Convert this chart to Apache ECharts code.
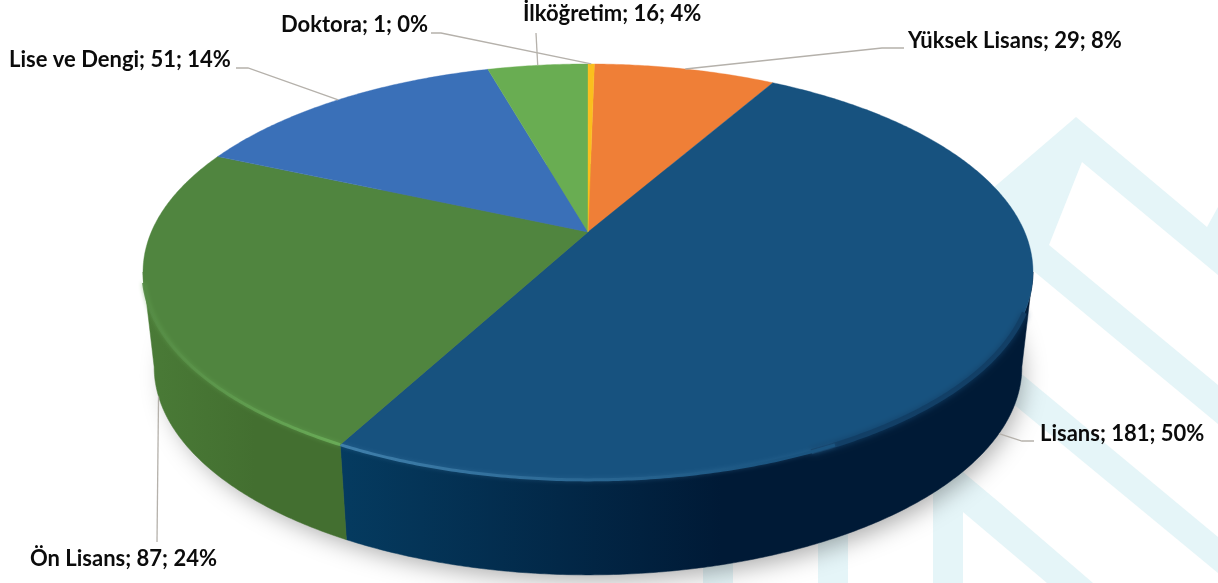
<!DOCTYPE html>
<html><head><meta charset="utf-8">
<style>html,body{margin:0;padding:0;background:#fff}#c{width:1218px;height:583px}</style>
<script src="https://cdn.jsdelivr.net/npm/echarts@6/dist/echarts.min.js"></script>
</head><body><div id="c"></div>
<script>
const categories = ['Yüksek Lisans','Lisans','Ön Lisans','Lise ve Dengi','İlköğretim','Doktora'];
const values = [29,181,87,51,16,1];
const percents = [8,50,24,14,4,0];

const topColors = ['#ef7f37','#17527f','#50853f','#3a70b8','#69ad52','#fbbf1d'];
const sideColors = [['#c0622a','#c0622a'],['#053b60','#001a36'],['#4a7b37','#436f30'],['#2c5a96','#2c5a96'],['#4f8a3e','#4f8a3e'],['#c99a16','#c99a16']];
const labelLayout = [
  {x:908,y:41,elbow:[[904,48],[882,48]],onBase:false},
  {x:1040,y:434,elbow:[[1034,441],[1022,441]],onBase:true},
  {x:30,y:559,elbow:[[157,542]],onBase:true},
  {x:9,y:60,elbow:[[236,68],[248,68]],onBase:false},
  {x:523,y:14,elbow:[[536,33]],onBase:false},
  {x:281,y:25,elbow:[[431,33],[441,33]],onBase:false}
];

const P = {cx:588,y0:232,A:436.7,B:200.3,k:0.192,depth:95,baseScale:0.975,start:1.0};
const total = values.reduce((a,b)=>a+b,0);
const starts = []; values.reduce((acc,v,i)=>{starts[i]=acc;return acc+v/total*360;},P.start);
const rim = deg => {const t=deg*Math.PI/180,u=Math.sin(t),v=Math.cos(t),w=1+P.k*v;
  return [P.cx+P.A*u/w,P.y0-P.B*v/w];};
const base = p => [P.cx+(p[0]-P.cx)*P.baseScale,p[1]+P.depth];
const arc = (a,b,fn)=>{const n=Math.max(2,Math.ceil((b-a)*2)),r=[];for(let i=0;i<=n;i++){const p=rim(a+(b-a)*i/n);r.push(fn?fn(p):p);}return r;};
const span = i => [starts[i],starts[i]+values[i]/total*360];
const hGrad=(x1,x2,c1,c2)=>new echarts.graphic.LinearGradient(x1,0,x2,0,[{offset:0,color:c1},{offset:1,color:c2}],true);
const extreme = Math.acos(-P.k)*180/Math.PI;

const sideItem=(params)=>{
  const i=params.dataIndex;let [a,b]=span(i);
  a=Math.max(a,extreme); b=Math.min(b,360-extreme);
  if(b<=a) return null;
  const pts=arc(a,b).concat(arc(a,b,base).reverse());
  const c=sideColors[i];
  const xs=pts.map(p=>p[0]);
  const lo=Math.min(...xs),hi=Math.max(...xs);
  const f=hGrad(lo,lo+(hi-lo)*0.55,c[0],c[1]);
  return {type:'polygon',shape:{points:pts},style:{fill:f,stroke:f,lineWidth:0.5}};
};
const topItem=(params)=>{
  const i=params.dataIndex,[a,b]=span(i);
  const pts=[[P.cx,P.y0]].concat(arc(a,b));
  const children=[{type:'polygon',shape:{points:pts},style:{fill:topColors[i],stroke:topColors[i],lineWidth:0.4}}];
  if(categories[i]==='Ön Lisans'){
    children.push({type:'polyline',shape:{points:arc(a,256)},style:{fill:null,lineWidth:3,opacity:.9,shadowBlur:4,shadowColor:'rgba(104,168,85,.6)',
      stroke:hGrad(150,345,'#558b45','#6cb05a')}});
  }
  if(categories[i]==='Lisans'){
    children.push({type:'polyline',shape:{points:arc(112,155)},style:{fill:null,lineWidth:5,shadowBlur:6,shadowColor:'#123f66',stroke:'#123f66'}});
    children.push({type:'polyline',shape:{points:arc(152,b)},style:{fill:null,lineWidth:3,shadowBlur:4,shadowColor:'rgba(60,120,165,.4)',
      stroke:hGrad(345,780,'#3f7fab','#1a5480')}});
  }
  return {type:'group',children};
};
const labelItem=(params)=>{
  const i=params.dataIndex,[a,b]=span(i),L=labelLayout[i];
  let anchor=rim((a+b)/2); if(L.onBase) anchor=base(anchor);
  return {type:'group',children:[
    {type:'polyline',shape:{points:L.elbow.concat([anchor])},style:{fill:null,stroke:'#b5b1ab',lineWidth:1.3}},
    {type:'text',style:{x:L.x,y:L.y,text:categories[i]+'; '+values[i]+'; '+percents[i]+'%',
      font:'700 22px Lato',fill:'#0b0b0b',textAlign:'left',textVerticalAlign:'middle'}}
  ]};
};
const wm='#e5f5f8';
const poly=pts=>({type:'polygon',silent:true,z:0,shape:{points:pts},style:{fill:wm}});
const chart=echarts.init(document.getElementById('c'),null,{renderer:'canvas'});
const data=values.map((v,i)=>[i,v]);
const custom=(fn,z)=>({type:'custom',coordinateSystem:'none',renderItem:fn,data,z,silent:true,animation:false,clip:false});
chart.setOption({
  animation:false,
  backgroundColor:'#fff',
  graphic:[
    poly([[985,195],[1076,117],[1207,227],[1218,207],[1218,275],[1082,162],[1049,245],[1218,385],[1218,424],[1036,273],[985,230]]),
    poly([[1000,356],[1218,537],[1218,573],[1000,393]]),
    poly([[933,583],[933,447],[1000,503],[1093,583],[1047,583],[963,512],[963,583]]),
    poly([[818,450],[848,450],[848,583],[818,583]]),
    poly([[703,450],[733,450],[733,583],[703,583]]),
    {type:'ellipse',silent:true,z:1,shape:{cx:590,cy:368,rx:428,ry:204},style:{fill:'#888',shadowBlur:24,shadowColor:'rgba(0,0,0,.34)',shadowOffsetX:4,shadowOffsetY:8}}
  ],
  series:[custom(sideItem,2),custom(topItem,3),custom(labelItem,4)]
});
</script></body></html>
